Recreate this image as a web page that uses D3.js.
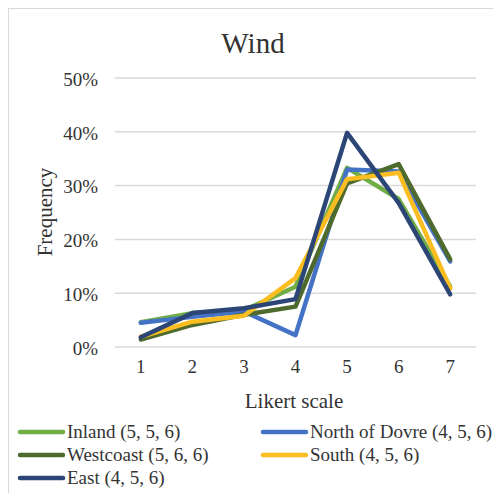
<!DOCTYPE html>
<html>
<head>
  <meta charset="UTF-8">
  <title>Wind</title>
  <script src="https://d3js.org/d3.v7.min.js"></script>
  <style>
    body { margin: 0; background: #fff; }
  </style>
</head>
<body>
  <svg width="493" height="493"></svg>

  <script>
    // Data (share of answers per Likert step)
    const categories = ["1", "2", "3", "4", "5", "6", "7"];
    const inland     = [0.046, 0.063, 0.068, 0.112, 0.333, 0.275, 0.112];
    const northDovre = [0.045, 0.056, 0.066, 0.022, 0.330, 0.326, 0.159];
    const westcoast  = [0.014, 0.041, 0.060, 0.075, 0.304, 0.340, 0.163];
    const south      = [0.019, 0.047, 0.058, 0.128, 0.312, 0.324, 0.109];
    const east       = [0.018, 0.063, 0.072, 0.089, 0.398, 0.268, 0.098];
    const yTicks = [0, 0.1, 0.2, 0.3, 0.4, 0.5];

    const series = [
      { name: "Inland (5, 5, 6)", values: inland, color: "#70ad47" },
      { name: "North of Dovre (4, 5, 6)", values: northDovre, color: "#4472c4" },
      { name: "Westcoast (5, 6, 6)", values: westcoast, color: "#4e6a2d" },
      { name: "South (4, 5, 6)", values: south, color: "#fbbd20" },
      { name: "East (4, 5, 6)", values: east, color: "#2b4576" }
    ];

    const font = '"Liberation Serif", "Times New Roman", serif';
    const ink = "#333";

    const svg = d3.select("svg");

    // chart frame
    svg.append("rect")
      .attr("x", 8.5).attr("y", 8.5)
      .attr("width", 500).attr("height", 500)
      .attr("fill", "none")
      .attr("stroke", "#d9d9d9");

    const margin = { top: 78, left: 115, right: 17, bottom: 146 };
    const width = 493 - margin.left - margin.right;
    const height = 493 - margin.top - margin.bottom;

    const g = svg.append("g")
      .attr("transform", `translate(${margin.left},${margin.top})`);

    const x = d3.scaleBand().domain(categories).range([0, width]);
    const y = d3.scaleLinear().domain([0, 0.5]).range([height, 0]);

    // gridlines
    g.append("g")
      .selectAll("line")
      .data(yTicks)
      .join("line")
      .attr("x1", 0).attr("x2", width)
      .attr("y1", d => y(d)).attr("y2", d => y(d))
      .attr("stroke", "#d9d9d9")
      .attr("stroke-width", 1.5);

    // y axis
    const yAxis = g.append("g")
      .call(d3.axisLeft(y).tickValues(yTicks).tickFormat(d3.format(".0%")).tickSize(0).tickPadding(17));
    yAxis.select(".domain").remove();
    yAxis.selectAll("text")
      .style("font-family", font).style("font-size", "19px")
      .attr("fill", ink).attr("dy", "0.38em");

    // x axis
    const xAxis = g.append("g")
      .attr("transform", `translate(0,${height})`)
      .call(d3.axisBottom(x).tickSize(0).tickPadding(13));
    xAxis.select(".domain").remove();
    xAxis.selectAll("text")
      .style("font-family", font).style("font-size", "19px")
      .attr("fill", ink);

    // lines
    const line = d3.line()
      .x((d, i) => x(categories[i]) + x.bandwidth() / 2)
      .y(d => y(d));

    g.selectAll(".series")
      .data(series)
      .join("path")
      .attr("class", "series")
      .attr("fill", "none")
      .attr("stroke", d => d.color)
      .attr("stroke-width", 4.5)
      .attr("stroke-linejoin", "round")
      .attr("stroke-linecap", "round")
      .attr("d", d => line(d.values));

    // title
    svg.append("text")
      .attr("x", 253).attr("y", 53)
      .attr("text-anchor", "middle")
      .style("font-family", font).style("font-size", "29px")
      .attr("fill", ink)
      .text("Wind");

    // axis titles
    svg.append("text")
      .attr("x", 294).attr("y", 408)
      .attr("text-anchor", "middle")
      .style("font-family", font).style("font-size", "21px")
      .attr("fill", ink)
      .text("Likert scale");

    svg.append("text")
      .attr("transform", "translate(52,212) rotate(-90)")
      .attr("text-anchor", "middle")
      .style("font-family", font).style("font-size", "21px")
      .attr("fill", ink)
      .text("Frequency");

    // legend
    const legend = svg.append("g")
      .selectAll("g")
      .data(series)
      .join("g")
      .attr("transform", (d, i) => `translate(${i % 2 ? 263 : 20},${432 + Math.floor(i / 2) * 23})`);

    legend.append("line")
      .attr("x1", 0).attr("x2", 43)
      .attr("stroke", d => d.color)
      .attr("stroke-width", 4.5)
      .attr("stroke-linecap", "round");

    legend.append("text")
      .attr("x", 47).attr("y", 6)
      .style("font-family", font).style("font-size", "19px")
      .attr("fill", ink)
      .text(d => d.name);
  </script>
</body>
</html>
